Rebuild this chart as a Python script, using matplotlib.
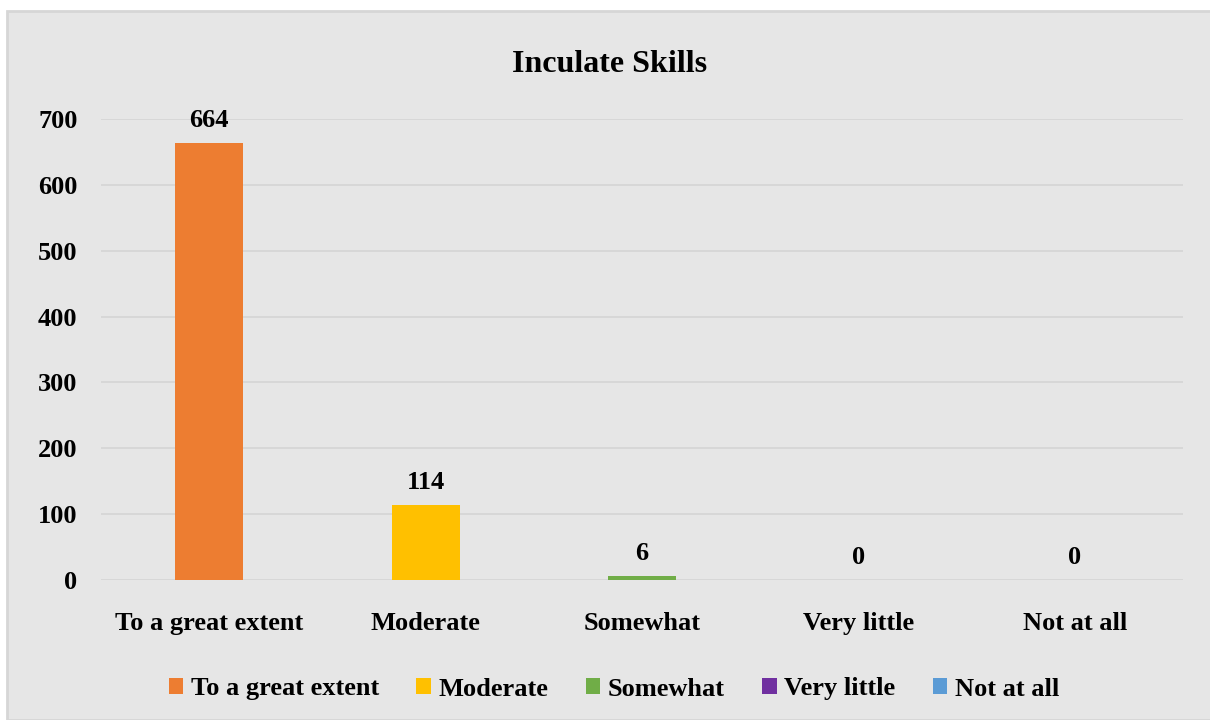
import matplotlib.pyplot as plt
from matplotlib.patches import Rectangle, Patch

categories = ["To a great extent", "Moderate", "Somewhat", "Very little", "Not at all"]
counts = [664, 114, 6, 0, 0]
colors = ["#ED7D31", "#FFC000", "#70AD47", "#7030A0", "#5B9BD5"]
yticks = [0, 100, 200, 300, 400, 500, 600, 700]

plt.rcParams["font.family"] = ["Liberation Serif", "DejaVu Serif"]
plt.rcParams["font.weight"] = "bold"

W, H = 1210, 720
bg = "#E6E6E6"
fs = 19

fig = plt.figure(figsize=(W / 100, H / 100), dpi=100)
fig.patch.set_facecolor("white")

# gray chart area with thin border
fig.patches.append(
    Rectangle(
        (7 / W, 0), 1, 1 - 11 / H,
        transform=fig.transFigure,
        facecolor=bg,
        edgecolor="#D6D6D6",
        linewidth=2,
        zorder=-5,
    )
)

left, right = 101 / W, 1183 / W
bottom, top = 1 - 580 / H, 1 - 119 / H
ax = fig.add_axes([left, bottom, right - left, top - bottom])
ax.set_zorder(2)
ax.patch.set_alpha(0)

x = range(len(categories))
bars = ax.bar(x, counts, width=0.315, color=colors, zorder=3)

ax.set_xlim(-0.5, len(categories) - 0.5)
ax.set_ylim(0, 700)
ax.set_yticks(yticks)
ax.set_yticklabels([str(v) for v in yticks], fontsize=fs, fontweight="bold")
ax.set_xticks(list(x))
ax.set_xticklabels(categories, fontsize=fs, fontweight="bold")
ax.tick_params(axis="both", length=0)
ax.tick_params(axis="y", pad=17)
ax.tick_params(axis="x", pad=23)

ax.grid(axis="y", color="#D6D6D6", linewidth=1.3, zorder=0)
for s in ax.spines.values():
    s.set_visible(False)

for xi, v in zip(x, counts):
    ax.annotate(
        str(v), (xi, v),
        xytext=(0, 8), textcoords="offset points",
        ha="center", va="bottom",
        fontsize=fs, fontweight="bold",
    )

fig.text(610 / W, 1 - 64 / H, "Inculate Skills",
         ha="center", va="center", fontsize=23, fontweight="bold")

handles = [Patch(facecolor=c, edgecolor="none") for c in colors]
leg = fig.legend(
    handles, categories,
    loc="center", bbox_to_anchor=(614 / W, 1 - 689 / H),
    ncol=5, frameon=False,
    prop={"size": fs, "weight": "bold"},
    handlelength=0.55, handleheight=0.55,
    handletextpad=0.3, columnspacing=1.4,
)

fig.savefig("out.png", dpi=100, facecolor=fig.get_facecolor())
